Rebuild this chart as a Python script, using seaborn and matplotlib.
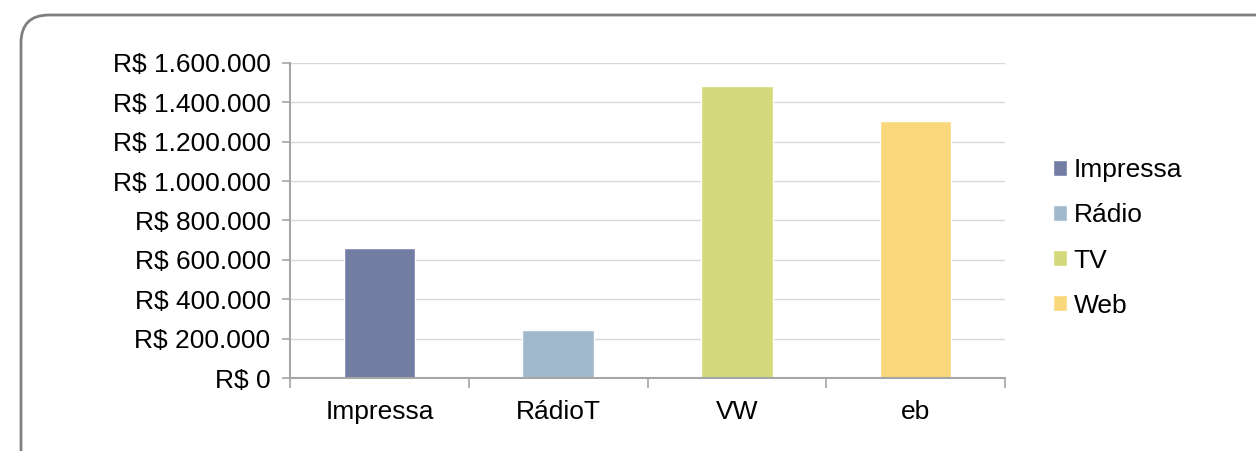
import matplotlib
matplotlib.use('Agg')
import matplotlib.pyplot as plt
import matplotlib.ticker as mticker
from matplotlib.patches import FancyBboxPatch
from matplotlib.transforms import IdentityTransform
import seaborn as sns
import pandas as pd

# data
categories = ['Impressa', 'RádioT', 'VW', 'eb']
series = ['Impressa', 'Rádio', 'TV', 'Web']
values = [660000, 244000, 1483000, 1305000]
colors = ['#737ca3', '#a0b9cc', '#d4d97c', '#f9d87b']

sns.set_theme(style='white')
plt.rcParams['font.family'] = ['Liberation Sans', 'DejaVu Sans']
plt.rcParams['text.color'] = 'black'

df = pd.DataFrame({'cat': categories, 'serie': series, 'valor': values})

fig = plt.figure(figsize=(12.56, 4.51), dpi=100)
ax = fig.add_axes([290/1256, 1 - 378/451, (1005-290)/1256, (378-63)/451])

sns.barplot(data=df, x='cat', y='valor', hue='serie', palette=colors,
            dodge=False, width=0.4, ax=ax, saturation=1, legend=True)

ax.set_ylim(0, 1600000)
ax.set_xlim(-0.5, 3.5)
ax.yaxis.set_major_locator(mticker.MultipleLocator(200000))
ax.yaxis.set_major_formatter(mticker.FuncFormatter(
    lambda v, p: 'R$ ' + f'{int(v):,}'.replace(',', '.')))
ax.grid(axis='y', color='#d9d9d9', linewidth=1)
ax.set_axisbelow(True)

for s in ['top', 'right']:
    ax.spines[s].set_visible(False)
for s in ['left', 'bottom']:
    ax.spines[s].set_color('#a6a6a6')
    ax.spines[s].set_linewidth(1.5)

ax.set_xlabel('')
ax.set_ylabel('')
ax.tick_params(axis='y', labelsize=19, length=6, color='#a6a6a6', width=1.2,
               left=True, pad=8, labelcolor='black')
ax.tick_params(axis='x', which='major', length=0, labelsize=19, pad=16,
               labelcolor='black')
ax.set_xticks([-0.5, 0.5, 1.5, 2.5, 3.5], minor=True)
ax.tick_params(axis='x', which='minor', length=7, color='#a6a6a6', width=1.2,
               bottom=True)

handles, labels = ax.get_legend_handles_labels()
ax.get_legend().remove()
leg = fig.legend(handles, labels, loc='center left',
                 bbox_to_anchor=(1042/1256, 1 - 238/451), frameon=False,
                 fontsize=19, handlelength=0.55, handleheight=0.55,
                 handletextpad=0.25, labelspacing=0.8, borderaxespad=0)
for t in leg.get_texts():
    t.set_color('black')

# rounded frame round the chart, clipped at the bottom and right
frame = FancyBboxPatch((21, -60), 1300, 451 - 15 + 60,
                       boxstyle='round,pad=0,rounding_size=28',
                       transform=IdentityTransform(), fill=False,
                       edgecolor='#7f7f7f', linewidth=2)
fig.add_artist(frame)

fig.savefig('out.png', dpi=100)
